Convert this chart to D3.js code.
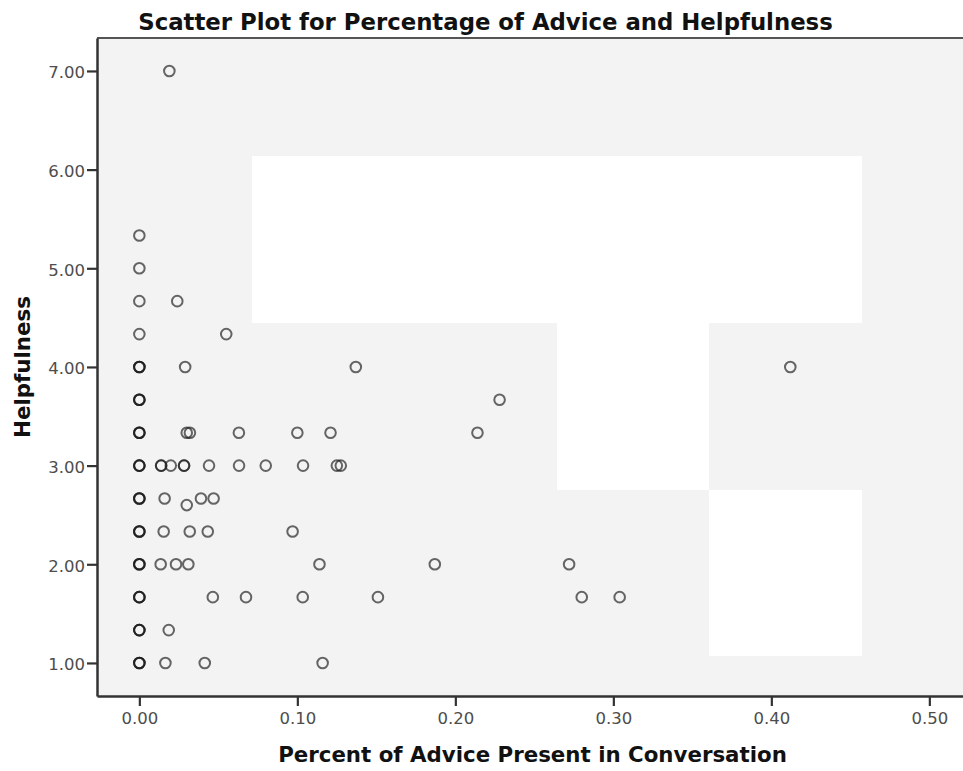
<!DOCTYPE html>
<html>
<head>
<meta charset="utf-8">
<script src="https://cdn.jsdelivr.net/npm/d3@7"></script>
<style>
  html, body { margin: 0; padding: 0; background: #fff; }
  svg { display: block; }
</style>
</head>
<body>
<script>
// ---- Data ----
const advice = [
  0,0,0,0, 0,0,0, 0,0,0, 0,0,0, 0,0,0, 0,0,0, 0,0,0, 0,0,0, 0,0,0, 0,0,0, 0,0,0,
  0.019,
  0.024,
  0.055,
  0.029, 0.137, 0.412,
  0.228,
  0.030, 0.032, 0.063, 0.100, 0.121, 0.214,
  0.0138, 0.0138, 0.0199, 0.0283, 0.0283, 0.0441, 0.0631, 0.080, 0.1036, 0.125, 0.1275,
  0.016, 0.030, 0.039, 0.047,
  0.0154, 0.0319, 0.0433, 0.097,
  0.0135, 0.0232, 0.031, 0.114, 0.187, 0.272,
  0.0465, 0.0675, 0.1034, 0.151, 0.280, 0.304,
  0.0186,
  0.0165, 0.0414, 0.116
];
const helpfulness = [
  5.333, 5.0, 4.667, 4.333, 4.0,4.0,4.0, 3.667,3.667,3.667, 3.333,3.333,3.333, 3.0,3.0,3.0,
  2.667,2.667,2.667, 2.333,2.333,2.333, 2.0,2.0,2.0, 1.667,1.667,1.667, 1.333,1.333,1.333, 1.0,1.0,1.0,
  7.0,
  4.667,
  4.333,
  4.0, 4.0, 4.0,
  3.667,
  3.333, 3.333, 3.333, 3.333, 3.333, 3.333,
  3.0, 3.0, 3.0, 3.0, 3.0, 3.0, 3.0, 3.0, 3.0, 3.0, 3.0,
  2.667, 2.60, 2.667, 2.667,
  2.333, 2.333, 2.333, 2.333,
  2.0, 2.0, 2.0, 2.0, 2.0, 2.0,
  1.667, 1.667, 1.667, 1.667, 1.667, 1.667,
  1.333,
  1.0, 1.0, 1.0
];
const xTicks = [0, 0.1, 0.2, 0.3, 0.4, 0.5];
const yTicks = [1, 2, 3, 4, 5, 6, 7];
const titleText = "Scatter Plot for Percentage of Advice and Helpfulness";
const xLabel = "Percent of Advice Present in Conversation";
const yLabel = "Helpfulness";

// ---- Layout ----
const W = 963, H = 771;
const plot = { left: 97, top: 38, right: 975, bottom: 696 };

const svg = d3.select("body").append("svg").attr("width", W).attr("height", H);

const x = d3.scaleLinear().domain([-0.0268, 0.5289]).range([plot.left, plot.right]);
const y = d3.scaleLinear().domain([0.665, 7.334]).range([plot.bottom, plot.top]);

// plot background
svg.append("rect")
  .attr("x", plot.left).attr("y", plot.top)
  .attr("width", plot.right - plot.left).attr("height", plot.bottom - plot.top)
  .attr("fill", "#f3f3f3");

// white blank patches present in the reference image
const patches = [
  [252, 156, 862, 323],
  [557, 323, 709, 490],
  [709, 490, 862, 656]
];
svg.append("g").selectAll("rect").data(patches).join("rect")
  .attr("x", d => d[0]).attr("y", d => d[1])
  .attr("width", d => d[2] - d[0]).attr("height", d => d[3] - d[1])
  .attr("fill", "#ffffff");

// top frame line
svg.append("line")
  .attr("x1", plot.left).attr("x2", plot.right)
  .attr("y1", plot.top).attr("y2", plot.top)
  .attr("stroke", "#555").attr("stroke-width", 2.2);

const tickFont = "'DejaVu Sans', sans-serif";

// axes
const yAxis = d3.axisLeft(y).tickValues(yTicks).tickFormat(d3.format(".2f"))
  .tickSize(10).tickPadding(2).tickSizeOuter(0);
const gy = svg.append("g").attr("transform", `translate(${plot.left},0)`).call(yAxis);

const xAxis = d3.axisBottom(x).tickValues(xTicks).tickFormat(d3.format(".2f"))
  .tickSize(10).tickPadding(6).tickSizeOuter(0);
const gx = svg.append("g").attr("transform", `translate(0,${plot.bottom})`).call(xAxis);

[gx, gy].forEach(g => {
  g.select(".domain").attr("stroke", "#333").attr("stroke-width", 2.5);
  g.selectAll(".tick line").attr("stroke", "#333").attr("stroke-width", 2.2);
  g.selectAll(".tick text")
    .attr("font-family", tickFont).attr("font-size", "16.5px").attr("fill", "#4d4d4d");
});
gy.selectAll(".tick text").attr("dy", "0.42em");

// points
svg.append("g").selectAll("circle")
  .data(d3.range(advice.length))
  .join("circle")
  .attr("cx", i => x(advice[i]))
  .attr("cy", i => y(helpfulness[i]))
  .attr("r", 5.3)
  .attr("fill", "none")
  .attr("stroke", "#1a1a1a")
  .attr("stroke-opacity", 0.66)
  .attr("stroke-width", 2);

// text helper: fit bold text to a target width
function fitText(sel, targetWidth) {
  const node = sel.node();
  const len = node.getComputedTextLength();
  const fs = parseFloat(sel.attr("font-size"));
  sel.attr("font-size", (fs * targetWidth / len).toFixed(2) + "px");
}

const boldFont = "'DejaVu Sans', sans-serif";

const title = svg.append("text")
  .attr("x", 485.5).attr("y", 29.5)
  .attr("text-anchor", "middle")
  .attr("font-family", boldFont).attr("font-weight", "bold")
  .attr("font-size", "22px").attr("fill", "#111")
  .text(titleText);
fitText(title, 695);

const xl = svg.append("text")
  .attr("x", 532.5).attr("y", 762)
  .attr("text-anchor", "middle")
  .attr("font-family", boldFont).attr("font-weight", "bold")
  .attr("font-size", "21px").attr("fill", "#111")
  .text(xLabel);
fitText(xl, 509);

const yl = svg.append("text")
  .attr("transform", "translate(29.5,367) rotate(-90)")
  .attr("text-anchor", "middle")
  .attr("font-family", boldFont).attr("font-weight", "bold")
  .attr("font-size", "21px").attr("fill", "#111")
  .text(yLabel);
fitText(yl, 142);
</script>
</body>
</html>
